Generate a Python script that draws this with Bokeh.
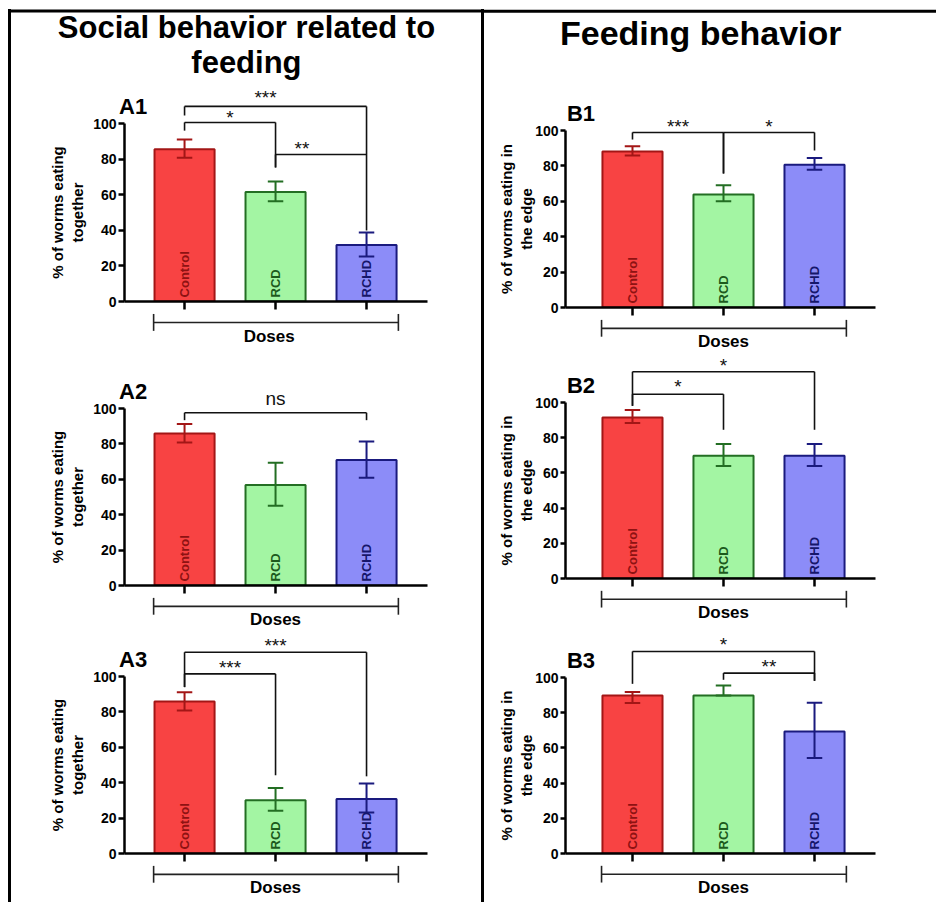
import math

from bokeh.core.properties import value
from bokeh.embed import file_html
from bokeh.layouts import column, row
from bokeh.models import ColumnDataSource, FixedTicker, Range1d, Spacer
from bokeh.plotting import figure
from bokeh.resources import INLINE
from bokeh.transform import dodge

FONT = "Liberation Sans"

doses = ["Control", "RCD", "RCHD"]
y_ticks = [0, 20, 40, 60, 80, 100]

# % of worms: bar mean and the two ends of each error bar
a1_mean = [85.5, 61.5, 31.8]
a1_lo = [80.7, 56.3, 25.3]
a1_hi = [91.0, 67.4, 38.8]

a2_mean = [85.9, 56.8, 70.9]
a2_lo = [80.8, 45.1, 60.9]
a2_hi = [91.2, 69.4, 81.4]

a3_mean = [85.9, 30.1, 30.8]
a3_lo = [80.8, 24.2, 23.1]
a3_hi = [91.1, 37.0, 39.5]

b1_mean = [88.2, 63.9, 80.6]
b1_lo = [85.9, 60.0, 77.8]
b1_hi = [91.1, 69.0, 84.4]

b2_mean = [91.5, 69.8, 69.8]
b2_lo = [88.3, 63.9, 63.9]
b2_hi = [95.8, 76.4, 76.4]

b3_mean = [89.8, 89.8, 69.3]
b3_lo = [85.5, 89.8, 54.2]
b3_hi = [91.7, 95.5, 85.6]

# significance brackets: label, from group, to group, bracket height,
# leg end at the first group, leg end at the second group, label x, label y
a1_sig = [("***", 0, 2, 109.6, 104.5, 39.9, 0.89, 114.6),
          ("*", 0, 1, 100.6, 96.0, 75.3, 0.50, 103.4),
          ("**", 1, 2, 82.6, 75.3, 82.6, 1.29, 85.8)]
a2_sig = [("ns", 0, 2, 97.6, 93.4, 93.4, 1.00, 105.5)]
a3_sig = [("***", 0, 2, 113.7, 94.0, 43.6, 1.00, 117.7),
          ("***", 0, 1, 101.5, 94.0, 44.2, 0.50, 105.1)]
b1_sig = [("***", 0, 1, 98.9, 94.9, 75.7, 0.50, 102.3),
          ("*", 1, 2, 98.9, 75.7, 88.7, 1.50, 102.3)]
b2_sig = [("*", 0, 2, 117.5, 98.1, 84.5, 1.00, 121.3),
          ("*", 0, 1, 104.7, 98.1, 84.5, 0.50, 108.9)]
b3_sig = [("*", 0, 2, 114.8, 96.4, 98.1, 1.00, 118.7),
          ("**", 1, 2, 102.5, 98.7, 98.1, 1.50, 106.3)]

fill_colors = ["#F84343", "#A3F5A3", "#8C8CF8"]
edge_colors = ["#A31616", "#236E23", "#1A1A7E"]
name_colors = ["#8E1212", "#1C5A1C", "#16166A"]

together_label = "% of worms eating\ntogether"
edge_label = "% of worms eating in\nthe edge"

social_heading = ["Social behavior related to", "feeding"]
feeding_heading = ["Feeding behavior"]


def make_panel(tag, ylabel, mean, lo, hi, sig, width, height,
               left, right, top, bottom, x_start, x_end, label_standoff,
               tick_out=6, doses_x=1.0):
    p = figure(width=width, height=height,
               x_range=Range1d(x_start, x_end), y_range=Range1d(0, 100),
               output_backend="svg", toolbar_location=None,
               min_border_left=left, min_border_right=right,
               min_border_top=top, min_border_bottom=bottom,
               outline_line_color=None, background_fill_color="white",
               border_fill_color="white")
    p.xgrid.visible = False
    p.ygrid.visible = False

    xa = p.xaxis[0]
    xa.ticker = FixedTicker(ticks=[0, 1, 2])
    xa.major_label_overrides = {0: "", 1: "", 2: ""}
    xa.major_label_standoff = 0
    xa.major_tick_out = 8
    xa.major_tick_in = 0
    xa.minor_tick_out = 0
    xa.minor_tick_in = 0
    xa.axis_line_width = 2.5
    xa.major_tick_line_width = 2.5
    xa.axis_line_color = "black"
    xa.major_tick_line_color = "black"

    ya = p.yaxis[0]
    ya.ticker = FixedTicker(ticks=y_ticks)
    ya.major_tick_out = tick_out
    ya.major_tick_in = 0
    ya.minor_tick_out = 0
    ya.minor_tick_in = 0
    ya.axis_line_width = 2.5
    ya.major_tick_line_width = 2.5
    ya.axis_line_color = "black"
    ya.major_tick_line_color = "black"
    ya.major_label_standoff = 2
    ya.major_label_text_font = FONT
    ya.major_label_text_font_style = "bold"
    ya.major_label_text_font_size = "14px"
    ya.major_label_text_color = "black"
    ya.axis_label = ylabel
    ya.axis_label_text_font = FONT
    ya.axis_label_text_font_style = "bold"
    ya.axis_label_text_font_size = "15px"
    ya.axis_label_text_color = "black"
    ya.axis_label_standoff = label_standoff

    src = ColumnDataSource(dict(x=[0, 1, 2], top=mean, lo=lo, hi=hi,
                                fill=fill_colors, edge=edge_colors,
                                name=doses, ncol=name_colors))
    p.vbar(x="x", top="top", bottom=0, width=0.66, fill_color="fill",
           line_color="edge", line_width=2, source=src)
    p.segment(x0="x", y0="lo", x1="x", y1="hi", line_color="edge",
              line_width=2, source=src)
    for end in ("lo", "hi"):
        p.segment(x0=dodge("x", -0.085), y0=end, x1=dodge("x", 0.085), y1=end,
                  line_color="edge", line_width=2, source=src)
    p.text(x="x", y=2.3, text="name", angle=math.pi / 2, text_align="left",
           text_baseline="middle", text_color="ncol", text_font=value(FONT),
           text_font_style="bold", text_font_size="13px", source=src)

    # significance brackets above the bars
    x0, y0, x1, y1 = [], [], [], []
    tx, ty, tt = [], [], []
    for lab, i, j, h, e1, e2, lx, ly in sig:
        x0 += [i, i, j]
        y0 += [h, h, h]
        x1 += [j, i, j]
        y1 += [h, e1, e2]
        tx.append(lx)
        ty.append(ly)
        tt.append(lab)
    p.segment(x0=x0, y0=y0, x1=x1, y1=y1, line_color="#111111",
              line_width=1.6, level="overlay")
    p.text(x=tx, y=ty, text=tt, text_align="center", text_baseline="middle",
           text_color="#111111", text_font=value(FONT),
           text_font_size="19px", level="overlay")

    # "Doses" grouping bracket under the axis
    p.segment(x0=[-0.34, -0.34, 2.35], y0=[-11.8, -7.0, -7.0],
              x1=[2.35, -0.34, 2.35], y1=[-11.8, -16.5, -16.5],
              line_color="#222222", line_width=1.6, level="overlay")
    p.text(x=[doses_x], y=[-19.4], text=["Doses"], text_align="center",
           text_baseline="middle", text_color="black", text_font=value(FONT),
           text_font_style="bold", text_font_size="17px", level="overlay")

    # panel tag
    p.text(x=[-0.72], y=[109.5], text=[tag], text_align="left",
           text_baseline="alphabetic", text_color="black",
           text_font=value(FONT), text_font_style="bold",
           text_font_size="22px", level="overlay")
    return p


def add_heading(p, lines, x_mid, baselines, size, rule_x, rule_y):
    # column heading and the top border line of the figure frame
    p.segment(x0=[rule_x[0]], y0=[rule_y], x1=[rule_x[1]], y1=[rule_y],
              line_color="black", line_width=3, level="overlay")
    p.text(x=[x_mid] * len(lines), y=baselines, text=lines,
           text_align="center", text_baseline="alphabetic",
           text_color="black", text_font=value(FONT),
           text_font_style="bold", text_font_size=size, level="overlay")


A_W, B_W = 470, 452
ax_start, ax_end = -0.66, 2.67
bx_start, bx_end = -0.736, 2.67

a1 = make_panel("A1", together_label, a1_mean, a1_lo, a1_hi, a1_sig,
                A_W, 350, 113, 54, 123, 49, ax_start, ax_end, 4, doses_x=0.93)
a2 = make_panel("A2", together_label, a2_mean, a2_lo, a2_hi, a2_sig,
                A_W, 280, 113, 54, 58, 45, ax_start, ax_end, 4)
a3 = make_panel("A3", together_label, a3_mean, a3_lo, a3_hi, a3_sig,
                A_W, 272, 113, 54, 46, 49, ax_start, ax_end, 4)
b1 = make_panel("B1", edge_label, b1_mean, b1_lo, b1_hi, b1_sig,
                B_W, 354, 81, 61, 130, 47, bx_start, bx_end, -3, 5)
b2 = make_panel("B2", edge_label, b2_mean, b2_lo, b2_hi, b2_sig,
                B_W, 276, 81, 61, 48, 52, bx_start, bx_end, -3, 5)
b3 = make_panel("B3", edge_label, b3_mean, b3_lo, b3_hi, b3_sig,
                B_W, 272, 81, 61, 47, 49, bx_start, bx_end, -3, 5)

add_heading(a1, social_heading, 0.68, [154.2, 134.0], "31px",
            (-1.91, 3.28), 163.2)
add_heading(b1, feeding_heading, 0.75, [155.0], "34px",
            (-1.64, 3.36), 167.4)


def rule(h):
    return Spacer(width=3, height=h, styles={"background-color": "black"})


def vertical_rule():
    return column(Spacer(width=3, height=9), rule(893), spacing=0)


left_col = column(a1, a2, a3, spacing=0)
right_col = column(b1, b2, b3, spacing=0)

page = row(Spacer(width=8, height=902), vertical_rule(), left_col,
           vertical_rule(), right_col, spacing=0)

with open("out.html", "w") as f:
    f.write(file_html(page, INLINE))
